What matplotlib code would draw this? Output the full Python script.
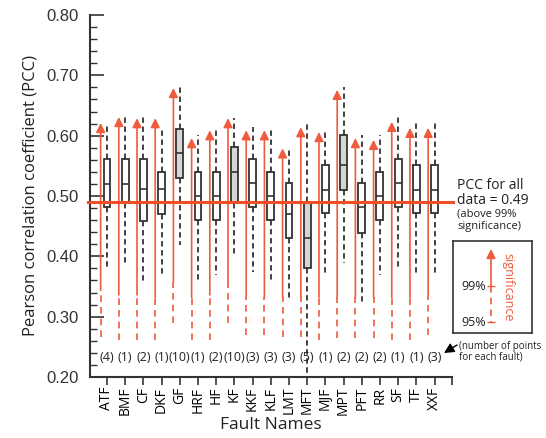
import matplotlib
matplotlib.use("Agg")
from matplotlib import pyplot as plt
from matplotlib.ticker import MultipleLocator, FormatStrFormatter


# data ---------------------------------------------------------------------------------------------------------------

faults = ['ATF', 'BMF', 'CF', 'DKF', 'GF', 'HRF', 'HF', 'KF', 'KKF', 'KLF', 'LMT', 'MFT', 'MJF', 'MPT', 'PFT',
          'RR', 'SF', 'TF', 'XXF']
n_points = [4, 1, 2, 1, 10, 1, 2, 10, 3, 3, 3, 5, 1, 2, 2, 2, 1, 1, 3]
shaded = ['GF', 'KF', 'MFT', 'MPT']

whis_hi = [0.621, 0.631, 0.631, 0.613, 0.682, 0.601, 0.613, 0.629, 0.614, 0.613, 0.581, 0.623, 0.611, 0.681,
           0.601, 0.601, 0.631, 0.621, 0.621]
q3 = [0.561, 0.561, 0.561, 0.540, 0.611, 0.540, 0.540, 0.581, 0.561, 0.540, 0.521, 0.490, 0.551, 0.601, 0.521,
      0.540, 0.561, 0.551, 0.551]
median = [0.520, 0.520, 0.511, 0.511, 0.571, 0.500, 0.500, 0.540, 0.521, 0.500, 0.470, 0.430, 0.510, 0.551, 0.482,
          0.500, 0.521, 0.510, 0.510]
q1 = [0.482, 0.488, 0.458, 0.470, 0.530, 0.460, 0.460, 0.488, 0.482, 0.460, 0.430, 0.380, 0.472, 0.510, 0.438,
      0.460, 0.482, 0.472, 0.472]
whis_lo = [0.379, 0.389, 0.359, 0.369, 0.419, 0.361, 0.369, 0.399, 0.374, 0.359, 0.329, 0.200, 0.370, 0.389, 0.319,
           0.369, 0.380, 0.369, 0.369]

# significance arrows: 95% level (dashed start), 99% level (solid start), arrow tip
sig95 = [0.266, 0.261, 0.261, 0.261, 0.289, 0.261, 0.261, 0.289, 0.269, 0.269, 0.266, 0.266, 0.261, 0.264, 0.264,
         0.264, 0.261, 0.261, 0.269]
sig99 = [0.344, 0.336, 0.336, 0.332, 0.357, 0.332, 0.336, 0.356, 0.332, 0.332, 0.332, 0.332, 0.332, 0.332, 0.332,
         0.332, 0.332, 0.332, 0.332]
sig_tip = [0.621, 0.631, 0.629, 0.629, 0.679, 0.596, 0.609, 0.629, 0.609, 0.609, 0.579, 0.614, 0.606, 0.676, 0.596,
           0.593, 0.623, 0.613, 0.613]

pcc_all = 0.49


# style ----------------------------------------------------------------------------------------------------------------

W, H = 546, 438
ORANGE = '#ee5b3d'
RED = '#f04e25'
DARK = '#333333'
ARROW = '-|>,head_length=0.6,head_width=0.3'

plt.rcParams['font.family'] = ['Open Sans', 'DejaVu Sans']


def fx(x):
    return x / W


def fy(y):
    return 1 - y / H


fig = plt.figure(figsize=(W / 100, H / 100), dpi=100)
ax = fig.add_axes([fx(90), fy(377), (452 - 90) / W, (377 - 15) / H])

pos = list(range(len(faults)))

# boxes...
stats = []
for i, name in enumerate(faults):
    stats.append({'label': name, 'med': median[i], 'q1': q1[i], 'q3': q3[i],
                  'whislo': whis_lo[i], 'whishi': whis_hi[i], 'fliers': []})

bp = ax.bxp(stats, positions=pos, widths=0.38, patch_artist=True, showcaps=False, showfliers=False,
            boxprops=dict(edgecolor=DARK, linewidth=1.3),
            whiskerprops=dict(color=DARK, linewidth=1.3, linestyle=(0, (3, 2))),
            medianprops=dict(color=DARK, linewidth=1.2))

for name, box in zip(faults, bp['boxes']):
    box.set_facecolor('#d6d6d6' if name in shaded else 'white')

# significance arrows...
for i in pos:
    x = i - 0.35
    ax.vlines(x, sig95[i], sig99[i], colors=ORANGE, linestyles=(0, (4, 3)), linewidth=1.2)
    ax.annotate('', xy=(x, sig_tip[i]), xytext=(x, sig99[i]),
                arrowprops=dict(arrowstyle=ARROW, color=ORANGE, lw=1.2,
                                shrinkA=0, shrinkB=0, mutation_scale=9))

# PCC for all data...
ax.axhline(pcc_all, xmin=-0.006, xmax=1.003, color=RED, linewidth=2.2, zorder=5, clip_on=False)

# counts...
for i in pos:
    ax.text(i, 0.233, '(%d)' % n_points[i], ha='center', va='center', fontsize=9, color='#222222')

# axes...
ax.set_xlim(-0.934, 18.96)
ax.set_ylim(0.20, 0.80)

ax.set_xticks(pos)
ax.set_xticklabels(faults, rotation=90, fontsize=10)
ax.set_xticks([18.96], minor=True)
ax.tick_params(axis='x', which='both', direction='out', length=6, width=1.2, color=DARK, pad=1)

ax.yaxis.set_major_locator(MultipleLocator(0.1))
ax.yaxis.set_minor_locator(MultipleLocator(0.02))
ax.yaxis.set_major_formatter(FormatStrFormatter('%.2f'))
ax.tick_params(axis='y', which='major', direction='in', length=10, width=1.2, color=DARK, pad=8)
ax.tick_params(axis='y', which='minor', direction='in', length=5, width=1.0, color=DARK)
for lab in ax.get_yticklabels():
    lab.set_family(['Liberation Sans', 'DejaVu Sans'])
    lab.set_fontsize(12)
    lab.set_color('#333333')

for side in ('top', 'right'):
    ax.spines[side].set_visible(False)
for side in ('left', 'bottom'):
    ax.spines[side].set_linewidth(1.5)
    ax.spines[side].set_color(DARK)

ax.set_ylabel('Pearson correlation coefficient (PCC)', fontsize=12, color='#222222', labelpad=6)
ax.set_xlabel('Fault Names', fontsize=12.5, color='#222222', labelpad=1)

# right-hand notes...
fig.text(fx(457), fy(185), 'PCC for all', fontsize=10, va='center', ha='left', color='#222222')
fig.text(fx(457), fy(200), 'data = %.2f' % pcc_all, fontsize=10, va='center', ha='left', color='#222222')
fig.text(fx(457), fy(214), '(above 99%', fontsize=8, va='center', ha='left', color='#222222')
fig.text(fx(457), fy(227), 'significance)', fontsize=8, va='center', ha='left', color='#222222')

# significance key...
kx = fig.add_axes([fx(453), fy(333), (532 - 453) / W, (333 - 241) / H])
kx.set_xlim(453, 532)
kx.set_ylim(333, 241)
kx.set_xticks([])
kx.set_yticks([])
for s in kx.spines.values():
    s.set_linewidth(1.2)
    s.set_color(DARK)
kx.vlines(491, 286, 322, colors=ORANGE, linestyles=(0, (4, 3)), linewidth=1.2)
kx.annotate('', xy=(491, 249), xytext=(491, 286),
            arrowprops=dict(arrowstyle=ARROW, color=ORANGE, lw=1.2,
                            shrinkA=0, shrinkB=0, mutation_scale=9))
kx.hlines([286, 322], 487, 495, colors=ORANGE, linewidth=1.0)
kx.text(486, 286, '99%', fontsize=9, ha='right', va='center', color='#222222')
kx.text(486, 322, '95%', fontsize=9, ha='right', va='center', color='#222222')
kx.text(508, 287, 'significance', fontsize=9, ha='center', va='center', rotation=-90, color=ORANGE)

# number of points note...
fig.text(fx(459), fy(346), '(number of points', fontsize=7, va='center', ha='left', color='#222222')
fig.text(fx(459), fy(357), 'for each fault)', fontsize=7, va='center', ha='left', color='#222222')
ax.annotate('', xy=(444, H - 353), xycoords='figure pixels', xytext=(457, H - 345), textcoords='figure pixels',
            arrowprops=dict(arrowstyle='-|>,head_length=0.5,head_width=0.25', color='black', lw=1.0,
                            shrinkA=0, shrinkB=0, mutation_scale=12))

fig.savefig('out.png', dpi=100)
